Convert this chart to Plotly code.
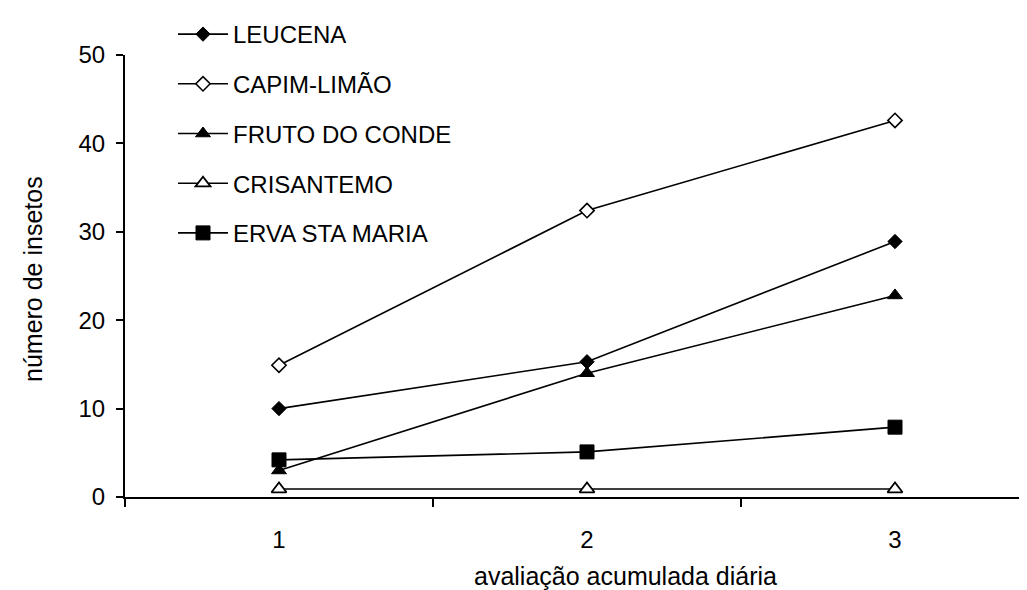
import plotly.graph_objects as go

categories = ["1", "2", "3"]
leucena = [10.0, 15.3, 28.9]
capim_limao = [14.9, 32.4, 42.6]
fruto_do_conde = [3.0, 14.0, 22.8]
crisantemo = [0.9, 0.9, 0.9]
erva_sta_maria = [4.2, 5.1, 7.9]

series_names = ["LEUCENA", "CAPIM-LIMÃO", "FRUTO DO CONDE", "CRISANTEMO", "ERVA STA MARIA"]
series_values = [leucena, capim_limao, fruto_do_conde, crisantemo, erva_sta_maria]
y_ticks = [0, 10, 20, 30, 40, 50]

FONT = "Arial, 'Liberation Sans', sans-serif"
W, H = 1027, 590
L, R, T, B = 117, 0, 47, 101

styles = [
    dict(symbol="diamond", size=11, color="black", line=dict(color="black", width=1)),
    dict(symbol="diamond", size=11, color="white", line=dict(color="black", width=1.6)),
    dict(symbol="triangle-up", size=13, color="black", line=dict(color="black", width=1)),
    dict(symbol="triangle-up", size=13, color="white", line=dict(color="black", width=1.8)),
    dict(symbol="square", size=14, color="black", line=dict(color="black", width=1)),
]

fig = go.Figure()
for i, (name, vals) in enumerate(zip(series_names, series_values)):
    fig.add_trace(go.Scatter(
        x=categories, y=vals, name=name, mode="lines+markers",
        line=dict(color="black", width=1.6),
        marker=styles[i],
        legendgroup=f"g{i}",
        cliponaxis=False,
    ))

pw = W - L - R
ph = H - T - B

fig.update_layout(
    width=W, height=H,
    margin=dict(l=L, r=R, t=T, b=B, pad=0),
    paper_bgcolor="white", plot_bgcolor="white",
    font=dict(family=FONT, size=24, color="black"),
    showlegend=True,
    legend=dict(
        x=(165 - L) / pw, y=1 + (T - 4) / ph, xanchor="left", yanchor="top",
        bgcolor="rgba(0,0,0,0)", borderwidth=0,
        font=dict(family=FONT, size=24, color="black"),
        traceorder="grouped", tracegroupgap=15.5, itemwidth=50,
    ),
    xaxis=dict(
        type="category", range=[-0.5, -0.5 + pw / 308.0],
        showline=True, linecolor="black", linewidth=2,
        ticks="outside", tickson="boundaries", ticklen=8, tickwidth=1.5, tickcolor="black",
        showgrid=False, zeroline=False,
        tickfont=dict(family=FONT, size=24, color="black"),
        ticklabelstandoff=20,
    ),
    yaxis=dict(
        range=[0, 50], tickvals=y_ticks,
        showline=True, linecolor="black", linewidth=2,
        ticks="outside", ticklen=7, tickwidth=1.5, tickcolor="black",
        showgrid=False, zeroline=False,
        tickfont=dict(family=FONT, size=24, color="black"),
        ticklabelstandoff=6,
    ),
    annotations=[
        dict(text="avaliação acumulada diária", xref="paper", yref="paper",
             x=(617 - L) / pw, y=(H - B - 568) / ph, xanchor="center", yanchor="middle",
             showarrow=False, font=dict(family=FONT, size=25, color="black")),
        dict(text="número de insetos", xref="paper", yref="paper",
             x=(25 - L) / pw, y=(H - B - 271) / ph, xanchor="center", yanchor="middle",
             textangle=-90, showarrow=False, font=dict(family=FONT, size=25, color="black")),
    ],
)

fig.write_html("out.html")
